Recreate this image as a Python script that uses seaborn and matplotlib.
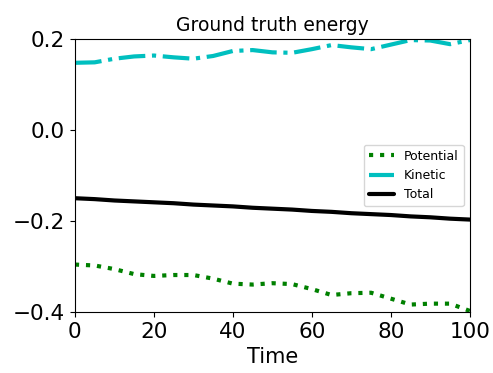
import numpy as np
import pandas as pd
import matplotlib
matplotlib.use("Agg")
import matplotlib.pyplot as plt
import seaborn as sns

time = [0, 5, 10, 15, 20, 25, 30, 35, 40, 45, 50, 55, 60, 65, 70, 75, 80, 85, 90, 95, 100]
potential = [-0.296, -0.298, -0.306, -0.317, -0.321, -0.319, -0.319, -0.327, -0.338, -0.340,
             -0.337, -0.339, -0.350, -0.363, -0.359, -0.358, -0.371, -0.384, -0.382, -0.382, -0.398]
kinetic = [0.148, 0.149, 0.157, 0.162, 0.164, 0.160, 0.157, 0.163, 0.174, 0.176,
           0.171, 0.170, 0.178, 0.187, 0.182, 0.178, 0.188, 0.198, 0.197, 0.189, 0.198]
total = [-0.150, -0.152, -0.155, -0.157, -0.159, -0.161, -0.164, -0.166, -0.168, -0.171,
         -0.173, -0.175, -0.178, -0.180, -0.183, -0.185, -0.187, -0.190, -0.192, -0.195, -0.197]

sns.set_style("ticks", {"text.color": "black", "axes.labelcolor": "black",
                        "xtick.color": "black", "ytick.color": "black",
                        "axes.edgecolor": "black"})
plt.rcParams['font.family'] = ['DejaVu Sans']

fig, ax = plt.subplots(figsize=(4.93, 3.73), dpi=100)
fig.subplots_adjust(left=0.152, right=0.953, top=0.895, bottom=0.164)

sns.lineplot(x=time, y=potential, ax=ax, color="green", lw=3, linestyle=":", label="Potential")
sns.lineplot(x=time, y=kinetic, ax=ax, color="c", lw=3, linestyle="-.", label="Kinetic")
sns.lineplot(x=time, y=total, ax=ax, color="black", lw=3, linestyle="-", label="Total")

ax.set_xlim(0, 100)
ax.set_ylim(-0.4, 0.2)
ax.set_xticks([0, 20, 40, 60, 80, 100])
ax.set_yticks([-0.4, -0.2, 0.0, 0.2])
ax.tick_params(labelsize=15.5, colors="black")
ax.set_xlabel("Time", fontsize=15, color="black")
ax.set_title("Ground truth energy", fontsize=13.5, color="black")

ax.legend(loc="center right", fontsize=9)

fig.savefig("out.png", dpi=100)
